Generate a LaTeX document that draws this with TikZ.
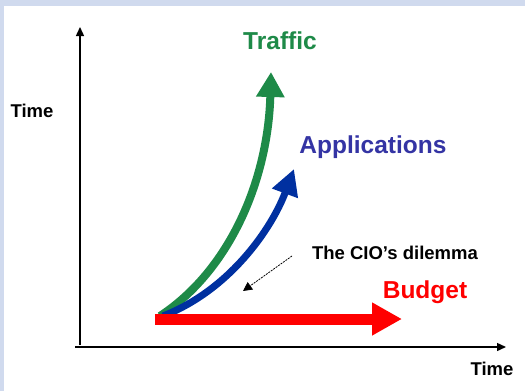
\documentclass[tikz,border=0pt]{standalone}
\usepackage{fontspec}
\setmainfont{Liberation Sans}
\usetikzlibrary{arrows.meta, positioning}
\definecolor{trafficgreen}{RGB}{30,138,72}
\definecolor{appblue}{RGB}{0,48,160}
\definecolor{applabel}{RGB}{52,52,164}
\definecolor{slidebg}{RGB}{208,218,238}
\tikzset{
    axis/.style={line width=1.4pt,-{Triangle[length=9pt,width=8pt]}},
    growth/.style={line width=#1},
    bigtext/.style={font=\bfseries\fontsize{24.5}{26}\selectfont,inner sep=0pt},
    smalltext/.style={font=\bfseries\fontsize{18.5}{20}\selectfont,inner sep=0pt},
    pointer/.style={line width=0.8pt,dash pattern=on 2pt off 1pt,
        -{Triangle[length=9pt,width=9pt]}}}

\begin{document}
\begin{tikzpicture}[x=1pt,y=-1pt]
\useasboundingbox (0,0) rectangle (525,391);
\fill[slidebg] (0,0) rectangle (525,391);
\fill[white] (4,6) rectangle (525,391);
% axes
\coordinate (origin) at (80,347);
\coordinate (ytip)   at (80,27);
\coordinate (xtip)   at (506,347);
\coordinate (xstart) at (75,347);
\draw[axis] (80,345) -- (ytip);
\draw[axis] (xstart) -- (xtip);
\node[smalltext] (ylabel) at (32,111)  {Time};
\node[smalltext] (xlabel) at (492,369) {Time};
% growth curves
\coordinate (gstart) at (160,316);
\coordinate (gtip)   at (271,72);
\coordinate (bstart) at (163,316);
\coordinate (btip)   at (294,169);
\coordinate (rstart) at (155,319);
\coordinate (rtip)   at (402,319);
\draw[growth=8pt,trafficgreen,-{Triangle[length=25pt,width=27pt]}]
    (gstart) .. controls (230,270) and (268,180) .. (gtip);
\draw[growth=7pt,appblue,-{Triangle[length=26pt,width=26pt]}]
    (bstart) .. controls (230,290) and (272,228) .. (btip);
\draw[growth=11pt,red,-{Triangle[length=30pt,width=31pt]}]
    (rstart) -- (rtip);
\node[bigtext,text=trafficgreen] (traffic) at (280,41)  {Traffic};
\node[bigtext,text=applabel]     (apps)    at (373,147) {Applications};
\node[bigtext,text=red]          (budget)  at (425,292) {Budget};
% dilemma
\node[smalltext] (dilemma) at (395,253) {The CIO’s dilemma};
\coordinate (gap) at (243,291);
\draw[pointer] (292,256) -- (gap);
\end{tikzpicture}
\end{document}
